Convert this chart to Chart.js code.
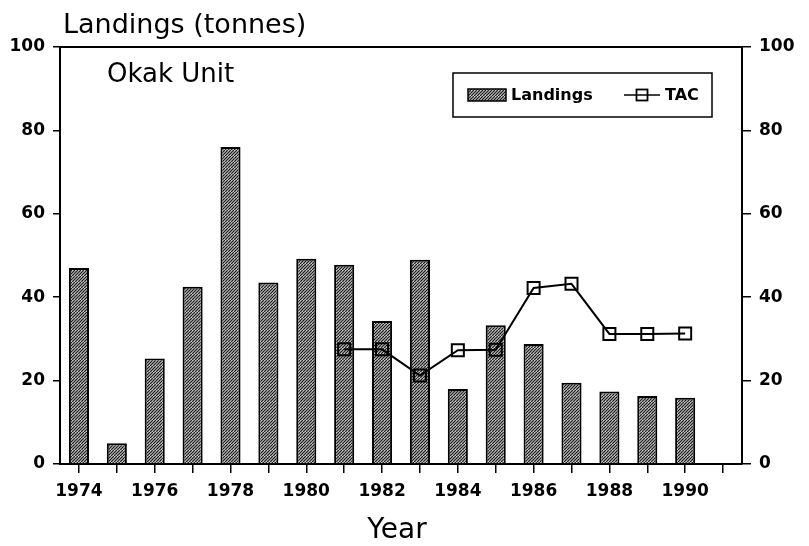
<!DOCTYPE html>
<html>
<head>
<meta charset="utf-8">
<title>Okak Unit landings</title>
<script src="https://cdn.jsdelivr.net/npm/chart.js@4.4.1/dist/chart.umd.min.js"></script>
<style>
  html, body { margin: 0; padding: 0; background: #fff; }
  canvas { display: block; }
</style>
</head>
<body>
<canvas id="chart" width="809" height="546"></canvas>
<script>
// valeurs (tonnes)
const years = [1974, 1975, 1976, 1977, 1978, 1979, 1980, 1981, 1982,
               1983, 1984, 1985, 1986, 1987, 1988, 1989, 1990, 1991];
const landings = [47, 5, 25.3, 42.5, 76, 43.5, 49.2, 47.8, 34.3,
                  49, 18, 33.3, 28.8, 19.5, 17.4, 16.3, 15.9, null];
const tac = [null, null, null, null, null, null, null, 27.5, 27.5,
             21.2, 27.3, 27.4, 42.2, 43.2, 31.2, 31.2, 31.3, null];
const yTicks = [0, 20, 40, 60, 80, 100];

const FONT = "'DejaVu Sans', sans-serif";

// motif hachuré pour les barres
function hatch() {
  const c = document.createElement('canvas');
  c.width = 6; c.height = 6;
  const g = c.getContext('2d');
  g.fillStyle = '#fff';
  g.fillRect(0, 0, 6, 6);
  g.strokeStyle = '#222';
  g.lineWidth = 1.5;
  for (let k = -6; k <= 12; k += 3) {
    g.beginPath();
    g.moveTo(k, 6);
    g.lineTo(k + 6, 0);
    g.stroke();
  }
  return g.createPattern(c, 'repeat');
}
const pattern = hatch();

// textes, bord supérieur et légende encadrée
const decor = {
  id: 'decor',
  afterDraw(chart) {
    const { ctx, chartArea: a } = chart;
    ctx.save();
    ctx.strokeStyle = '#000';
    ctx.lineWidth = 2;
    ctx.beginPath();
    ctx.moveTo(a.left, a.top);
    ctx.lineTo(a.right, a.top);
    ctx.stroke();

    ctx.fillStyle = '#000';
    ctx.textBaseline = 'alphabetic';
    ctx.textAlign = 'left';
    ctx.font = '27px ' + FONT;
    ctx.fillText('Landings (tonnes)', 63, 33);
    ctx.font = '26px ' + FONT;
    ctx.fillText('Okak Unit', 107, 82);
    ctx.textAlign = 'center';
    ctx.font = '28px ' + FONT;
    ctx.fillText('Year', 397, 538);

    // légende
    ctx.lineWidth = 1.5;
    ctx.strokeRect(453, 73, 259, 44);
    ctx.fillStyle = pattern;
    ctx.fillRect(468, 89, 38, 12);
    ctx.strokeRect(468, 89, 38, 12);
    ctx.fillStyle = '#000';
    ctx.textAlign = 'left';
    ctx.textBaseline = 'middle';
    ctx.font = 'bold 16px ' + FONT;
    ctx.fillText('Landings', 511, 96);
    ctx.beginPath();
    ctx.moveTo(624, 95);
    ctx.lineTo(660, 95);
    ctx.stroke();
    ctx.lineWidth = 1.8;
    ctx.strokeRect(636.5, 89.5, 11, 11);
    ctx.fillText('TAC', 665, 96);
    ctx.restore();
  }
};

new Chart(document.getElementById('chart'), {
  type: 'bar',
  data: {
    labels: years,
    datasets: [{
      label: 'TAC',
      type: 'line',
      data: tac,
      yAxisID: 'y2',
      borderColor: '#000',
      borderWidth: 2,
      tension: 0,
      pointStyle: 'rect',
      pointRadius: 8.5,
      pointBorderWidth: 2,
      pointBorderColor: '#000',
      pointBackgroundColor: 'rgba(0,0,0,0)',
      order: 0
    }, {
      label: 'Landings',
      data: landings,
      yAxisID: 'y',
      backgroundColor: pattern,
      borderColor: '#000',
      borderWidth: 2,
      categoryPercentage: 1,
      barPercentage: 0.53,
      order: 1
    }]
  },
  options: {
    responsive: false,
    animation: false,
    layout: { padding: { top: 47, left: 0, right: 0, bottom: 0 } },
    plugins: {
      legend: { display: false },
      tooltip: { enabled: false }
    },
    scales: {
      x: {
        type: 'category',
        offset: true,
        afterFit(s) { s.height = 82; },
        grid: { offset: false, drawOnChartArea: false, color: '#000', lineWidth: 1.5, tickLength: 9 },
        border: { color: '#000', width: 2 },
        ticks: {
          autoSkip: false,
          maxRotation: 0,
          padding: 8,
          color: '#000',
          font: { family: FONT, size: 17, weight: 'bold' },
          callback(v, i) {
            const yr = years[i];
            return (yr % 2 === 0 && yr <= 1990) ? String(yr) : '';
          }
        }
      },
      y: {
        position: 'left',
        min: 0, max: 100,
        afterFit(s) { s.width = 60; },
        afterBuildTicks(s) { s.ticks = yTicks.map(v => ({ value: v })); },
        grid: { drawOnChartArea: false, color: '#000', lineWidth: 1.5, tickLength: 7 },
        border: { color: '#000', width: 2 },
        ticks: { padding: 8, color: '#000', font: { family: FONT, size: 17, weight: 'bold' } }
      },
      y2: {
        position: 'right',
        min: 0, max: 100,
        afterFit(s) { s.width = 67; },
        afterBuildTicks(s) { s.ticks = yTicks.map(v => ({ value: v })); },
        grid: { drawOnChartArea: false, color: '#000', lineWidth: 1.5, tickLength: 9 },
        border: { color: '#000', width: 2 },
        ticks: { padding: 8, color: '#000', font: { family: FONT, size: 17, weight: 'bold' } }
      }
    }
  },
  plugins: [decor]
});
</script>
</body>
</html>
